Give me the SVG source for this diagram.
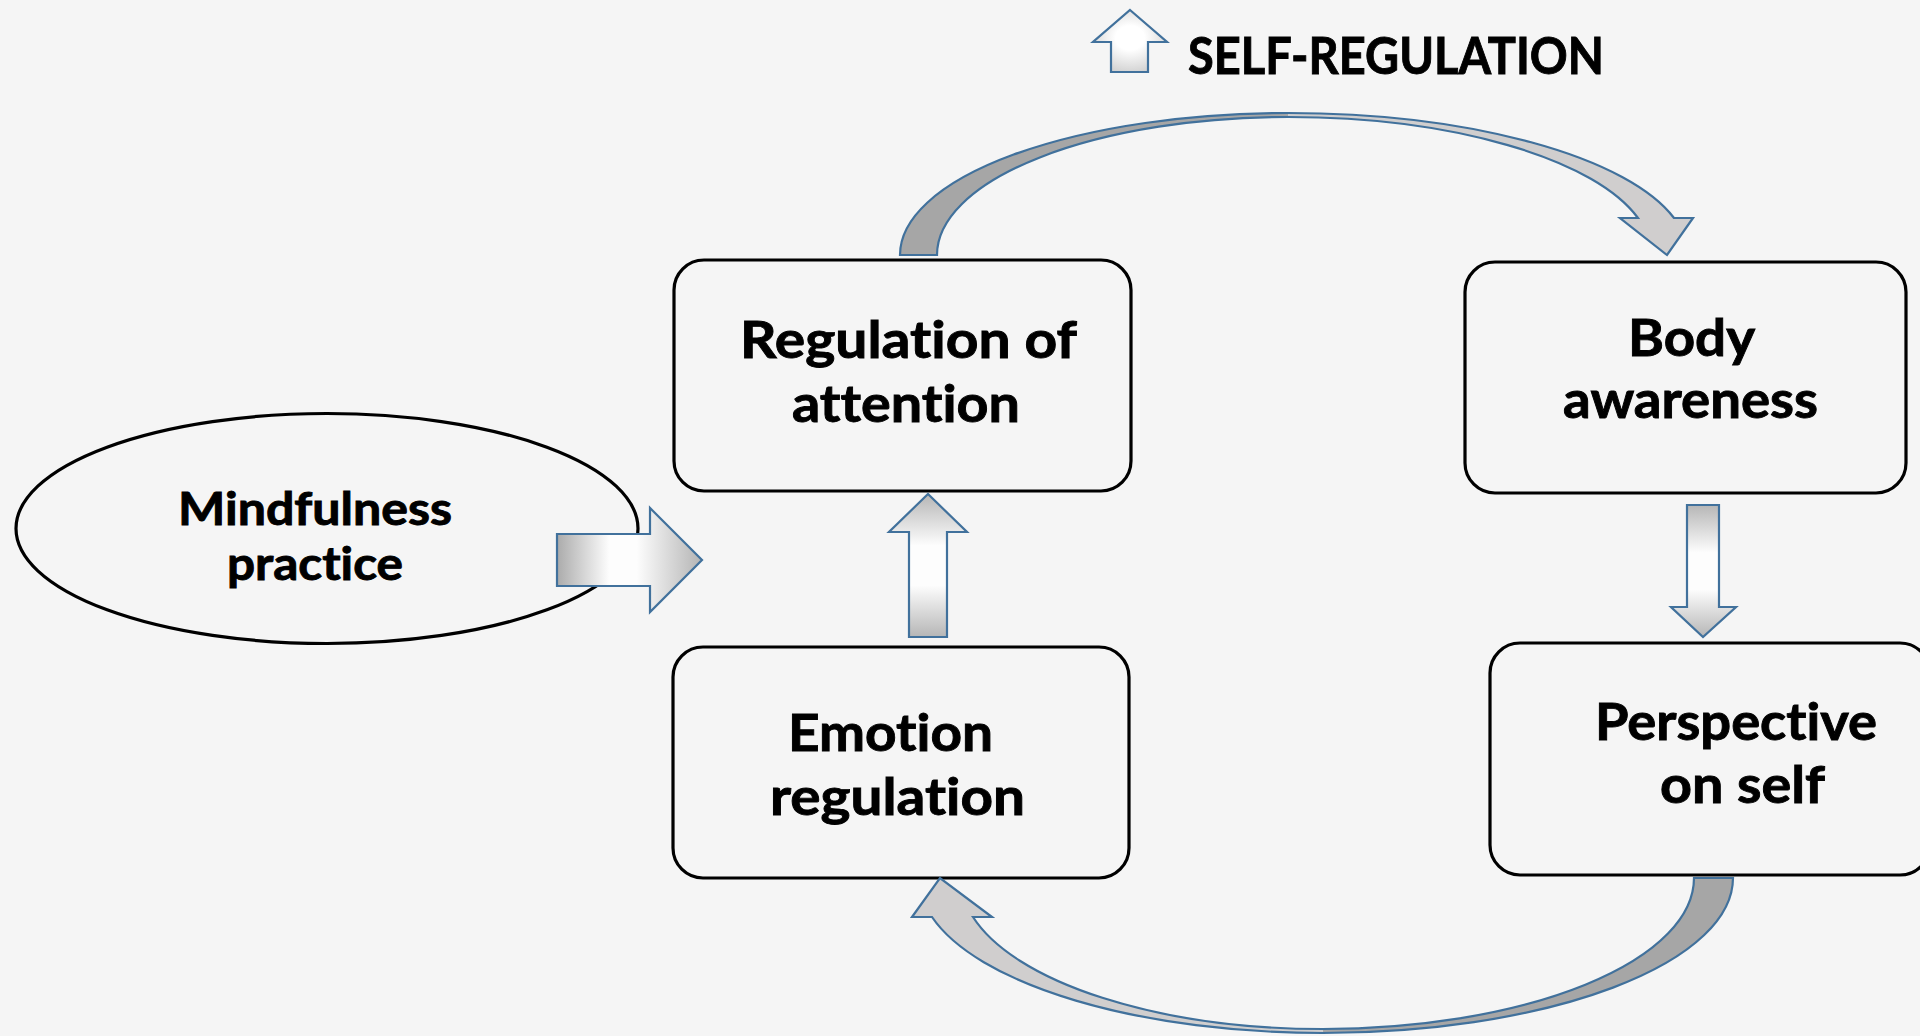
<svg xmlns="http://www.w3.org/2000/svg" width="1920" height="1036" viewBox="0 0 1920 1036">
  <style>
    .box { fill: #f5f5f5; stroke: #000000; stroke-width: 3.2; }
    .lbl { font-family: Lato, "Open Sans", "DejaVu Sans", sans-serif; font-weight: 700; fill: #000000; stroke: #000000; stroke-width: 0.9; font-variant-ligatures: none; font-feature-settings: "liga" 0, "clig" 0, "dlig" 0; }
    .big { font-size: 52px; }
    .mid { font-size: 45px; }
    .arr { stroke: #41719c; stroke-width: 2.2; stroke-linejoin: miter; }
  </style>
  <defs>
    <linearGradient id="gV" x1="0" y1="0" x2="0" y2="1">
      <stop offset="0" stop-color="#b6b6b6"/>
      <stop offset="0.36" stop-color="#fdfdfd"/>
      <stop offset="0.64" stop-color="#fdfdfd"/>
      <stop offset="1" stop-color="#b6b6b6"/>
    </linearGradient>
    <linearGradient id="gH" x1="0" y1="0" x2="1" y2="0">
      <stop offset="0" stop-color="#ababab"/>
      <stop offset="0.36" stop-color="#fdfdfd"/>
      <stop offset="0.55" stop-color="#fdfdfd"/>
      <stop offset="1" stop-color="#b4b4b4"/>
    </linearGradient>
    <radialGradient id="gR" cx="0.5" cy="0.45" r="0.65">
      <stop offset="0.3" stop-color="#ffffff"/>
      <stop offset="1" stop-color="#c8c8c8"/>
    </radialGradient>
    <linearGradient id="gTop" gradientUnits="userSpaceOnUse" x1="900" y1="0" x2="1700" y2="0">
      <stop offset="0" stop-color="#a6a6a6"/>
      <stop offset="0.485" stop-color="#a6a6a6"/>
      <stop offset="0.485" stop-color="#d0cece"/>
      <stop offset="1" stop-color="#d0cece"/>
    </linearGradient>
    <linearGradient id="gBot" gradientUnits="userSpaceOnUse" x1="900" y1="0" x2="1750" y2="0">
      <stop offset="0" stop-color="#d0cece"/>
      <stop offset="0.4976" stop-color="#d0cece"/>
      <stop offset="0.4976" stop-color="#a6a6a6"/>
      <stop offset="1" stop-color="#a6a6a6"/>
    </linearGradient>
  </defs>

  <rect x="0" y="0" width="1920" height="1036" fill="#f5f5f5"/>

  <g id="title">
    <path class="arr" fill="url(#gR)" d="M1130,10 L1167,42 L1148,42 L1148,72 L1111,72 L1111,42 L1093,42 Z"/>
    <text class="lbl" x="1188" y="74" font-size="51" textLength="416" lengthAdjust="spacingAndGlyphs">SELF-REGULATION</text>
  </g>

  <g id="node-mindfulness">
    <ellipse cx="327" cy="528.5" rx="311" ry="115" fill="#f5f5f5" stroke="#000" stroke-width="3.2"/>
    <text class="lbl mid" x="178" y="525" textLength="274" lengthAdjust="spacingAndGlyphs">Mindfulness</text>
    <text class="lbl mid" x="227" y="580" textLength="176" lengthAdjust="spacingAndGlyphs">practice</text>
  </g>

  <g id="node-attention">
    <rect class="box" x="674" y="260" width="457" height="231" rx="30" ry="30"/>
    <text class="lbl big" x="740" y="358" textLength="337" lengthAdjust="spacingAndGlyphs">Regulation of</text>
    <text class="lbl big" x="792" y="422" textLength="228" lengthAdjust="spacingAndGlyphs">attention</text>
  </g>

  <g id="node-body">
    <rect class="box" x="1465" y="262" width="441" height="231" rx="30" ry="30"/>
    <text class="lbl big" x="1628" y="356" textLength="127" lengthAdjust="spacingAndGlyphs">Body</text>
    <text class="lbl big" x="1563" y="418" textLength="255" lengthAdjust="spacingAndGlyphs">awareness</text>
  </g>

  <g id="node-emotion">
    <rect class="box" x="673" y="647" width="456" height="231" rx="30" ry="30"/>
    <text class="lbl big" x="788" y="751" textLength="205" lengthAdjust="spacingAndGlyphs">Emotion</text>
    <text class="lbl big" x="770" y="815" textLength="255" lengthAdjust="spacingAndGlyphs">regulation</text>
  </g>

  <g id="node-perspective">
    <rect class="box" x="1490" y="643" width="440" height="232" rx="30" ry="30"/>
    <text class="lbl big" x="1595" y="740" textLength="282" lengthAdjust="spacingAndGlyphs">Perspective</text>
    <text class="lbl big" x="1660" y="803" textLength="165" lengthAdjust="spacingAndGlyphs">on self</text>
  </g>

  <g id="connectors">
    <path id="c-mind-att" class="arr" fill="url(#gH)" d="M557,534 L650,534 L650,508 L702,560 L650,612 L650,586 L557,586 Z"/>
    <path id="c-emo-att" class="arr" fill="url(#gV)" d="M928,494 L967,532 L947,532 L947,637 L909,637 L909,532 L889,532 Z"/>
    <path id="c-body-persp" class="arr" fill="url(#gV)" d="M1687,505 L1719,505 L1719,607 L1736,607 L1703,637 L1671,607 L1687,607 Z"/>
    <path id="c-att-body" class="arr" fill="url(#gTop)" d="M900,255 A388,142 0 0 1 1288,113 A400,142 0 0 1 1674,218 L1693,218 L1667,255 L1620,218 L1638,218 A363,138 0 0 0 1288,117 A351,138 0 0 0 937,255 Z"/>
    <path id="c-persp-emo" class="arr" fill="url(#gBot)" d="M1733,878 A410,155 0 0 1 1323,1033 A404,155 0 0 1 932,917 L912,917 L940,878 L992,917 L973,917 A362,151 0 0 0 1323,1029 A371,151 0 0 0 1694,878 Z"/>
  </g>
</svg>
